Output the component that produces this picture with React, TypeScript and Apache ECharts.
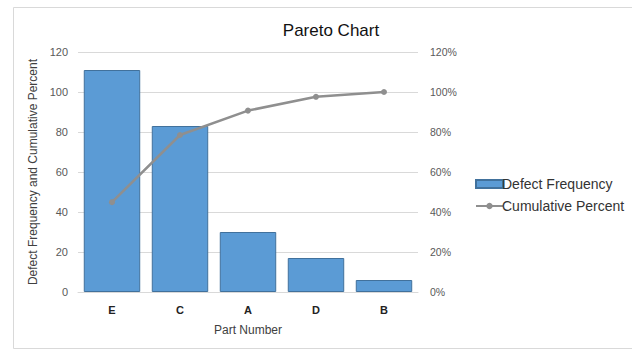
import React, { useEffect, useRef } from "react";
import * as echarts from "echarts";

const categories = ["E", "C", "A", "D", "B"];
const defectFrequency = [111, 83, 30, 17, 6];
const cumulativePercent = [44.9, 78.5, 90.7, 97.6, 100];
const leftTicks = { min: 0, max: 120, interval: 20 };
const rightTicks = { min: 0, max: 120, interval: 20 };

export default function App() {
  const ref = useRef<HTMLDivElement>(null);
  useEffect(() => {
    document.body.style.margin = "0";
    const chart = echarts.init(ref.current!, null, { renderer: "svg" });
    const font = "Liberation Sans";
    chart.setOption({
      animation: false,
      backgroundColor: "#ffffff",
      textStyle: { fontFamily: font },
      title: {
        text: "Pareto Chart",
        left: 326,
        textAlign: "center",
        top: 17,
        textStyle: { fontSize: 17, fontWeight: "normal", color: "#111", fontFamily: font },
      },
      graphic: [
        {
          type: "rect",
          shape: { x: 13.5, y: 7.5, width: 630, height: 341 },
          style: { fill: "none", stroke: "#d9d9d9", lineWidth: 1 },
          silent: true,
        },
      ],
      legend: {
        orient: "vertical",
        left: 470,
        top: 172,
        itemWidth: 27,
        itemHeight: 8,
        itemGap: 8,
        textStyle: { fontSize: 14, color: "#333", fontFamily: font, padding: [0, 0, 0, -6] },
        data: [
          { name: "Defect Frequency", icon: "rect" },
          { name: "Cumulative Percent" },
        ],
      },
      grid: { left: 78, right: 214, top: 52, bottom: 59 },
      xAxis: {
        type: "category",
        data: categories,
        name: "Part Number",
        nameLocation: "middle",
        nameGap: 32,
        nameTextStyle: { fontSize: 12, color: "#404040" },
        axisLine: { lineStyle: { color: "#d9d9d9" } },
        axisTick: { show: false },
        axisLabel: { fontSize: 11, color: "#222", fontWeight: "bold", margin: 12 },
      },
      yAxis: [
        {
          type: "value",
          min: leftTicks.min,
          max: leftTicks.max,
          interval: leftTicks.interval,
          name: "Defect Frequency and Cumulative Percent",
          nameLocation: "middle",
          nameGap: 33,
          nameTextStyle: { fontSize: 12, color: "#404040" },
          axisLabel: { fontSize: 11, color: "#595959", margin: 10 },
          splitLine: { lineStyle: { color: "#d9d9d9" } },
          axisLine: { show: false },
          axisTick: { show: false },
        },
        {
          type: "value",
          min: rightTicks.min,
          max: rightTicks.max,
          interval: rightTicks.interval,
          position: "right",
          axisLabel: { fontSize: 10.5, color: "#595959", margin: 12, formatter: "{value}%" },
          splitLine: { show: false },
          axisLine: { show: false },
          axisTick: { show: false },
        },
      ],
      series: [
        {
          name: "Defect Frequency",
          type: "bar",
          data: defectFrequency,
          barCategoryGap: "17%",
          itemStyle: { color: "#5B9BD5", borderColor: "#41719C", borderWidth: 1 },
        },
        {
          name: "Cumulative Percent",
          type: "line",
          yAxisIndex: 1,
          data: cumulativePercent,
          symbol: "circle",
          symbolSize: 6,
          lineStyle: { color: "#8f8f8f", width: 2.5 },
          itemStyle: { color: "#8f8f8f" },
        },
      ],
    });
    return () => chart.dispose();
  }, []);
  return <div ref={ref} style={{ position: "absolute", left: 0, top: 0, width: 632, height: 351 }} />;
}
